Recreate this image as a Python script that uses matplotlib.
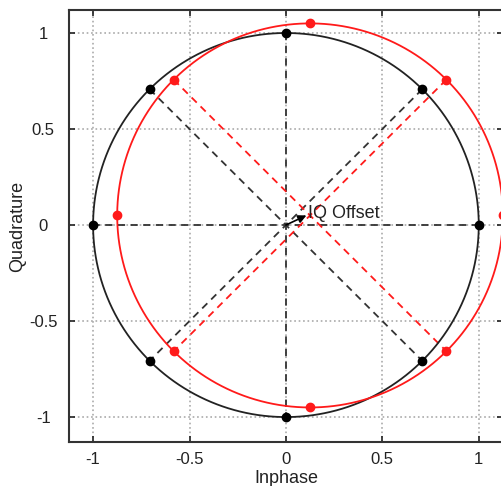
import numpy as np
import matplotlib.pyplot as plt

plt.rcParams['font.family'] = ['Liberation Sans', 'DejaVu Sans']

# ideal 8-point constellation on the unit circle and the offset version
angles_deg = [0, 45, 90, 135, 180, 225, 270, 315]
ideal_i = [1.0, 0.707, 0.0, -0.707, -1.0, -0.707, 0.0, 0.707]
ideal_q = [0.0, 0.707, 1.0, 0.707, 0.0, -0.707, -1.0, -0.707]
offset_i = 0.125
offset_q = 0.05
meas_i = [v + offset_i for v in ideal_i]
meas_q = [v + offset_q for v in ideal_q]

ticks = [-1, -0.5, 0, 0.5, 1]
tick_labels = ['-1', '-0.5', '0', '0.5', '1']

fig = plt.figure(figsize=(5.01, 4.86), dpi=100)
ax = fig.add_axes([0.1377, 0.0905, 0.866, 0.889])

t = np.linspace(0, 2 * np.pi, 400)
ax.plot(np.cos(t), np.sin(t), color='#222222', lw=1.3, zorder=3)
ax.plot(np.cos(t) + offset_i, np.sin(t) + offset_q, color='#ff1a1a', lw=1.3, zorder=3)

# dashed spokes through the ideal points
for a, b in [(0, 4), (2, 6), (1, 5), (3, 7)]:
    ax.plot([ideal_i[a], ideal_i[b]], [ideal_q[a], ideal_q[b]],
            color='#333333', ls=(0, (4, 3)), lw=1.3, zorder=2)
# dashed diagonals through the offset points
for a, b in [(1, 5), (3, 7)]:
    ax.plot([meas_i[a], meas_i[b]], [meas_q[a], meas_q[b]],
            color='#ff1a1a', ls=(0, (4, 3)), lw=1.3, zorder=2)

ax.plot(ideal_i, ideal_q, 'o', color='black', ms=6, zorder=4)
ax.plot(meas_i, meas_q, 'o', color='#ff1a1a', ms=6, zorder=4, clip_on=False)

# offset vector from the origin to the shifted centre
ax.annotate('', xy=(offset_i * 0.85, offset_q), xytext=(0, 0),
            arrowprops=dict(arrowstyle='-|>', color='black', lw=1.2,
                            mutation_scale=12, shrinkA=0, shrinkB=0), zorder=5)
ax.text(offset_i * 0.92, offset_q + 0.01, 'IQ Offset', fontsize=13,
        color='#222222', va='center', ha='left', zorder=5)

ax.set_xlim(-1.125, 1.125)
ax.set_ylim(-1.13, 1.12)
ax.set_xticks(ticks)
ax.set_xticklabels(tick_labels)
ax.set_yticks(ticks)
ax.set_yticklabels(tick_labels, ha='center')
ax.tick_params(direction='in', top=True, right=True, labelsize=12, length=4,
               width=1.2, colors='#222222')
ax.tick_params(axis='x', pad=7)
ax.tick_params(axis='y', pad=18.5)
ax.grid(True, color='#aaaaaa', ls=':', lw=1.2)
for s in ax.spines.values():
    s.set_color('#333333')
    s.set_linewidth(1.5)

ax.set_xlabel('Inphase', fontsize=13, color='#222222', labelpad=2)
ax.set_ylabel('Quadrature', fontsize=13, color='#222222')
ax.yaxis.set_label_coords(-0.098, 0.5)

plt.savefig('out.png', dpi=100)
